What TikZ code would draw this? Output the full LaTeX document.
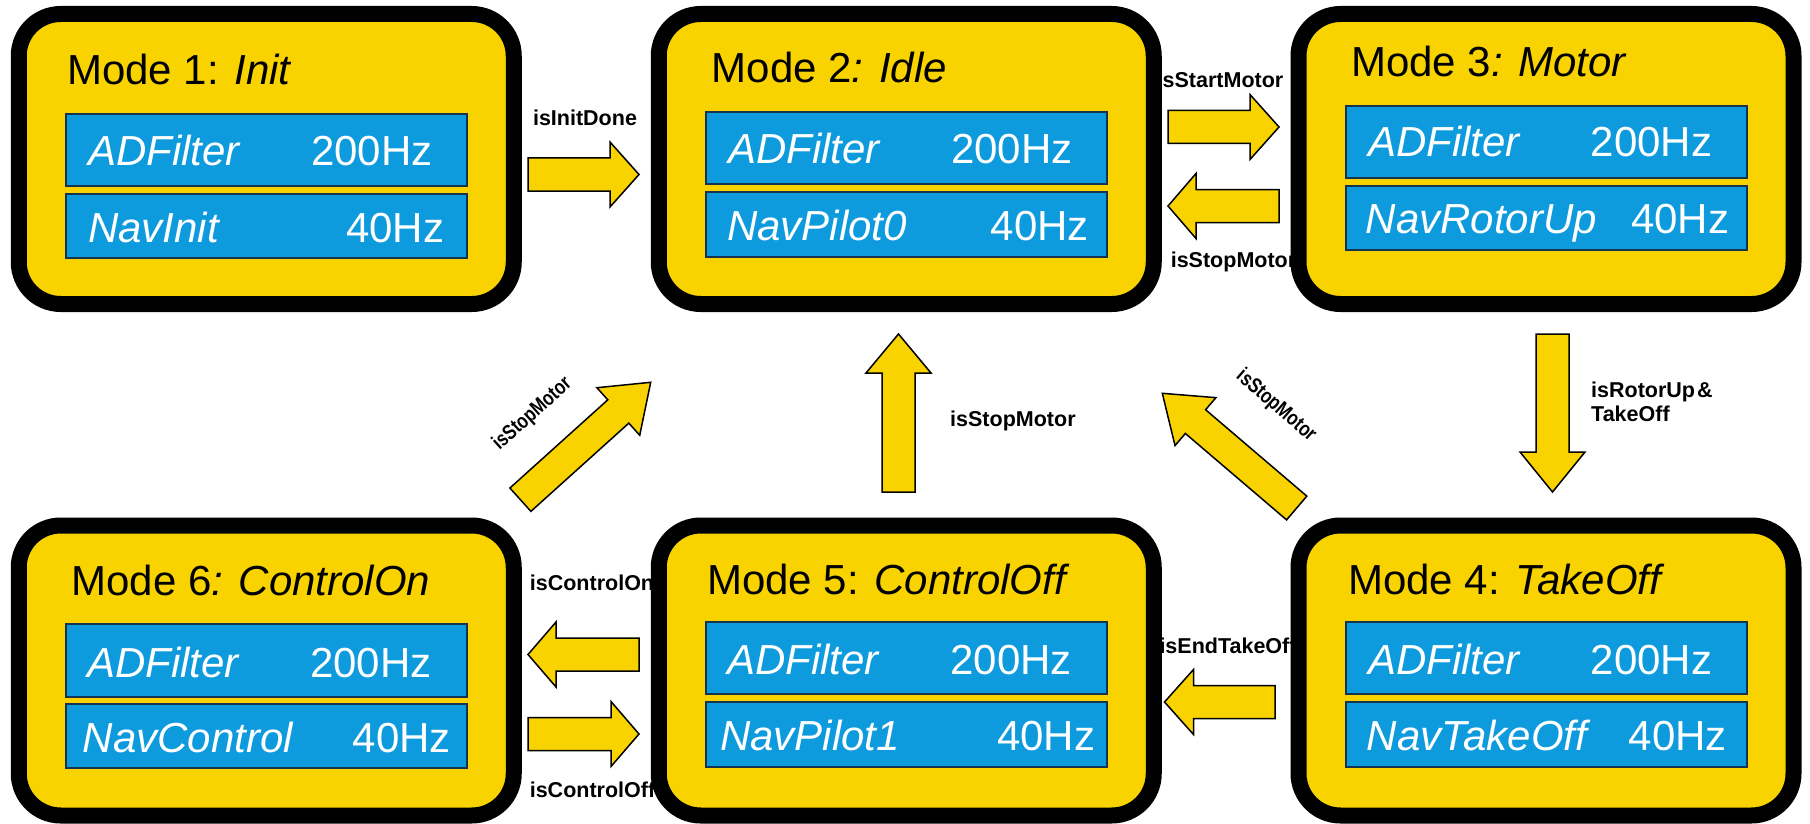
\documentclass[tikz,border=0pt]{standalone}
\usepackage{fontspec}
\setmainfont{Liberation Sans}
\usetikzlibrary{calc}

\definecolor{modeyellow}{RGB}{248,211,0}
\definecolor{taskblue}{RGB}{14,155,222}
\definecolor{taskedge}{RGB}{22,52,82}

\tikzset{
  modebox/.style={draw=black, line width=16pt, fill=modeyellow, rounded corners=42pt,
    minimum width=495pt, minimum height=290pt, inner sep=0pt},
  taskbar/.style={draw=taskedge, line width=1.5pt, fill=taskblue,
    minimum width=401pt, inner sep=0pt},
  tasktext/.style={text=white, anchor=base west, inner sep=0pt,
    font=\fontsize{42}{48}\selectfont},
  titletext/.style={anchor=base west, inner sep=0pt, font=\fontsize{42}{48}\selectfont},
  cond/.style={font=\fontsize{21.5}{24.7}\selectfont\bfseries, inner sep=0pt},
  condrot/.style={font=\fontsize{21}{24}\selectfont\bfseries, inner sep=0pt},
  blockarrow/.style={draw=black, line width=1.5pt, fill=modeyellow, line join=miter},
}

% narrow lettering for the slanted condition labels
\newcommand{\narrowlabel}[1]{\scalebox{0.8}[1]{#1}}

% block arrow: #1 tail, #2 tip, #3 half body width, #4 half head width, #5 head length
\newcommand{\blockarrow}[5]{%
  \coordinate (bahb) at ($(#2)!#5!(#1)$);
  \draw[blockarrow] ($(#1)!#3!90:(#2)$) -- ($(bahb)!#3!-90:(#1)$)
    -- ($(bahb)!#4!-90:(#1)$) -- (#2) -- ($(bahb)!#4!90:(#1)$)
    -- ($(bahb)!#3!90:(#1)$) -- ($(#1)!#3!-90:(#2)$) -- cycle;
}

\begin{document}
\begin{tikzpicture}[x=1pt, y=-1pt]
  \fill[white] (0,0) rectangle (1810,824);
  \useasboundingbox (0,0) rectangle (1810,824);

  % transition conditions (partly covered by the mode boxes)
  \node[cond] (l12) at (585,118) {isInitDone};
  \node[cond] (l23) at (1220,80) {isStartMotor};
  \node[cond] (l32) at (1233.5,262) {isStopMotor};
  \node[cond, anchor=west] (l52) at (950,421) {isStopMotor};
  \node[cond, anchor=north west, align=left] (l34) at (1591,381.5) {isRotorUp\kern2pt\&\\TakeOff};
  \node[cond] (l45) at (1228,646) {isEndTakeOff};
  \node[cond] (l56) at (592,583) {isControlOn};
  \node[cond] (l65) at (592.5,790) {isControlOff};
  \node[condrot, rotate=42] (l62) at (532.5,414) {\narrowlabel{isStopMotor}};
  \node[condrot, rotate=-41] (l42) at (1276,406) {\narrowlabel{isStopMotor}};

  % mode boxes
  \node[modebox] (m1) at (266.25,159) {};
  \node[modebox] (m2) at (906.25,159) {};
  \node[modebox] (m3) at (1546,159) {};
  \node[modebox] (m6) at (266.25,670.5) {};
  \node[modebox] (m5) at (906.25,670.5) {};
  \node[modebox] (m4) at (1546,670.5) {};

  % task bars
  \node[taskbar, minimum height=72pt] (m1a) at (266.5,150) {};
  \node[taskbar, minimum height=64pt] (m1b) at (266.5,226) {};
  \node[taskbar, minimum height=72pt] (m2a) at (906.5,148) {};
  \node[taskbar, minimum height=65pt] (m2b) at (906.5,224.5) {};
  \node[taskbar, minimum height=72pt] (m3a) at (1546.5,142) {};
  \node[taskbar, minimum height=64pt] (m3b) at (1546.5,218) {};
  \node[taskbar, minimum height=73pt] (m6a) at (266.5,660.5) {};
  \node[taskbar, minimum height=64pt] (m6b) at (266.5,736) {};
  \node[taskbar, minimum height=72pt] (m5a) at (906.5,658) {};
  \node[taskbar, minimum height=65pt] (m5b) at (906.5,734.5) {};
  \node[taskbar, minimum height=72pt] (m4a) at (1546.5,658) {};
  \node[taskbar, minimum height=65pt] (m4b) at (1546.5,734.5) {};

  % titles
  \node[titletext] (t1) at (67,85) {Mode 1: \textit{Init}};
  \node[titletext] (t2) at (711.5,83) {Mode 2\textit{: Idle}};
  \node[titletext] (t3) at (1351,77) {Mode 3\textit{: Motor}};
  \node[titletext] (t6) at (71.4,595) {Mode 6\textit{: ControlOn}};
  \node[titletext] (t5) at (707,594) {Mode 5: \textit{ControlOff}};
  \node[titletext] (t4) at (1348,594) {Mode 4: \textit{TakeOff}};

  % tasks and rates
  \node[tasktext] (m1at) at (88,166) {\textit{ADFilter}};
  \node[tasktext] (m1ar) at (311,166) {200Hz};
  \node[tasktext] (m1bt) at (88,242) {\textit{NavInit}};
  \node[tasktext] (m1br) at (346,242) {40Hz};

  \node[tasktext] (m2at) at (728,164) {\textit{ADFilter}};
  \node[tasktext] (m2ar) at (951,164) {200Hz};
  \node[tasktext] (m2bt) at (727,240) {\textit{NavPilot0}};
  \node[tasktext] (m2br) at (990.6,240) {40Hz};

  \node[tasktext] (m3at) at (1368,157) {\textit{ADFilter}};
  \node[tasktext] (m3ar) at (1590.6,157) {200Hz};
  \node[tasktext] (m3bt) at (1365.5,233) {\textit{NavRotorUp}};
  \node[tasktext] (m3br) at (1631,233) {40Hz};

  \node[tasktext] (m6at) at (87,677) {\textit{ADFilter}};
  \node[tasktext] (m6ar) at (310,677) {200Hz};
  \node[tasktext] (m6bt) at (82.6,752) {\textit{NavControl}};
  \node[tasktext] (m6br) at (352.7,752) {40Hz};

  \node[tasktext] (m5at) at (727,674) {\textit{ADFilter}};
  \node[tasktext] (m5ar) at (950.3,674) {200Hz};
  \node[tasktext] (m5bt) at (720,750) {\textit{NavPilot1}};
  \node[tasktext] (m5br) at (997,750) {40Hz};

  \node[tasktext] (m4at) at (1368,674) {\textit{ADFilter}};
  \node[tasktext] (m4ar) at (1590.6,674) {200Hz};
  \node[tasktext] (m4bt) at (1366.7,750) {\textit{NavTakeOff}};
  \node[tasktext] (m4br) at (1628.5,750) {40Hz};

  % transition arrows: tail and tip points
  \coordinate (a12s) at (528,174.5);   \coordinate (a12e) at (639,174.5);
  \coordinate (a23s) at (1168,127);    \coordinate (a23e) at (1279,127);
  \coordinate (a32s) at (1279,206);    \coordinate (a32e) at (1168,206);
  \coordinate (a34s) at (1552.5,334);  \coordinate (a34e) at (1552.5,492);
  \coordinate (a45s) at (1275,702);    \coordinate (a45e) at (1164.5,702);
  \coordinate (a56s) at (639,654.5);   \coordinate (a56e) at (528,654.5);
  \coordinate (a65s) at (528,734);     \coordinate (a65e) at (639,734);
  \coordinate (a52s) at (898.5,492);   \coordinate (a52e) at (898.5,334);
  \coordinate (a62s) at (520.4,499.7); \coordinate (a62e) at (650.7,382.3);
  \coordinate (a42s) at (1296.7,508);  \coordinate (a42e) at (1162.3,393.3);

  \blockarrow{a12s}{a12e}{16.5pt}{32.5pt}{29pt}
  \blockarrow{a23s}{a23e}{16.5pt}{32.5pt}{29pt}
  \blockarrow{a32s}{a32e}{16.5pt}{32.5pt}{28pt}
  \blockarrow{a34s}{a34e}{16.5pt}{32.5pt}{40pt}
  \blockarrow{a45s}{a45e}{16.5pt}{32.5pt}{29pt}
  \blockarrow{a56s}{a56e}{16.5pt}{32.5pt}{28pt}
  \blockarrow{a65s}{a65e}{16.5pt}{32.5pt}{28pt}
  \blockarrow{a52s}{a52e}{16.5pt}{32.5pt}{39pt}
  \blockarrow{a62s}{a62e}{15.7pt}{32pt}{43.6pt}
  \blockarrow{a42s}{a42e}{15.6pt}{31.5pt}{43.6pt}
\end{tikzpicture}
\end{document}
